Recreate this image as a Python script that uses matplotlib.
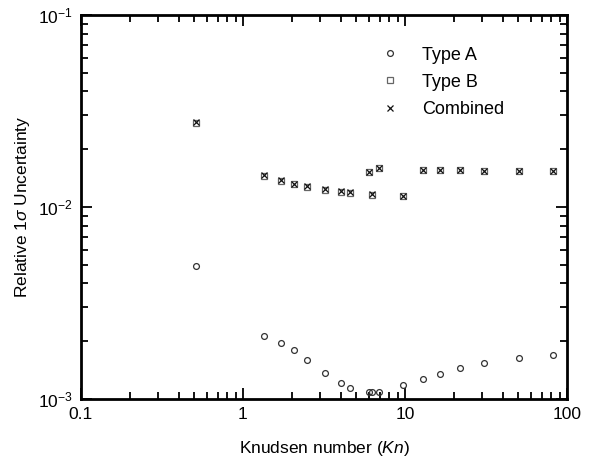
import matplotlib
matplotlib.use("Agg")
import matplotlib.pyplot as plt
from matplotlib.ticker import FixedLocator, FixedFormatter, LogLocator, NullFormatter

plt.rcParams['font.family'] = ['Liberation Sans', 'DejaVu Sans']
plt.rcParams['mathtext.fontset'] = 'custom'
plt.rcParams['mathtext.rm'] = 'Liberation Sans'
plt.rcParams['mathtext.it'] = 'Liberation Sans:italic'

# Knudsen number of each measurement
kn = [0.51, 1.35, 1.72, 2.06, 2.48, 3.22, 4.03, 4.56, 5.97, 6.26, 6.88,
      9.72, 12.9, 16.4, 21.9, 30.9, 50.5, 82.4]

# relative 1-sigma uncertainties
type_a = [4.91e-3, 2.13e-3, 1.95e-3, 1.79e-3, 1.60e-3, 1.365e-3, 1.21e-3,
          1.145e-3, 1.084e-3, 1.084e-3, 1.085e-3, 1.18e-3, 1.276e-3,
          1.355e-3, 1.445e-3, 1.54e-3, 1.635e-3, 1.69e-3]
type_b = [2.73e-2, 1.45e-2, 1.37e-2, 1.31e-2, 1.27e-2, 1.23e-2, 1.20e-2,
          1.19e-2, 1.52e-2, 1.16e-2, 1.60e-2, 1.14e-2, 1.56e-2, 1.56e-2,
          1.55e-2, 1.54e-2, 1.535e-2, 1.535e-2]
combined = [2.77e-2, 1.465e-2, 1.385e-2, 1.32e-2, 1.28e-2, 1.24e-2, 1.21e-2,
            1.20e-2, 1.525e-2, 1.165e-2, 1.605e-2, 1.145e-2, 1.565e-2,
            1.565e-2, 1.556e-2, 1.548e-2, 1.54e-2, 1.54e-2]

x_ticks = [0.1, 1, 10, 100]
x_tick_labels = ['0.1', '1', '10', '100']
y_ticks = [1e-3, 1e-2, 1e-1]
y_tick_labels = [r'$\mathdefault{10^{-3}}$', r'$\mathdefault{10^{-2}}$', r'$\mathdefault{10^{-1}}$']

fig = plt.figure(figsize=(5.96, 4.59), dpi=100)
ax = fig.add_axes([0.1359, 0.1307, 0.8154, 0.8366])

ax.plot(kn, type_a, linestyle='none', marker='o', ms=4.2, mfc='none',
        mec='#333333', mew=0.9, label='Type A')
ax.plot(kn, type_b, linestyle='none', marker='s', ms=4.4, mfc='none',
        mec='#666666', mew=0.9, label='Type B')
ax.plot(kn, combined, linestyle='none', marker='x', ms=4.6,
        mec='#111111', mew=0.9, label='Combined')

ax.set_xscale('log')
ax.set_yscale('log')
ax.set_xlim(0.1, 100)
ax.set_ylim(1e-3, 1e-1)

ax.xaxis.set_major_locator(FixedLocator(x_ticks))
ax.xaxis.set_major_formatter(FixedFormatter(x_tick_labels))
ax.yaxis.set_major_locator(FixedLocator(y_ticks))
ax.yaxis.set_major_formatter(FixedFormatter(y_tick_labels))
for axis in (ax.xaxis, ax.yaxis):
    axis.set_minor_locator(LogLocator(base=10, subs=range(2, 10)))
    axis.set_minor_formatter(NullFormatter())

ax.tick_params(which='both', direction='in', top=True, right=True,
               labelsize=12.5, width=1.3, pad=6)
ax.tick_params(which='major', length=8)
ax.tick_params(which='minor', length=5)
for sp in ax.spines.values():
    sp.set_linewidth(2)

ax.set_xlabel(r'Knudsen number ($Kn$)', fontsize=12.5, labelpad=12)
ax.set_ylabel(r'Relative 1$\sigma$ Uncertainty', fontsize=12.5, labelpad=4)

ax.legend(loc='upper right', bbox_to_anchor=(0.905, 0.96), frameon=False,
          fontsize=13, handlelength=1.0, handletextpad=1.3, labelspacing=0.56)

fig.savefig('out.png', dpi=100)
